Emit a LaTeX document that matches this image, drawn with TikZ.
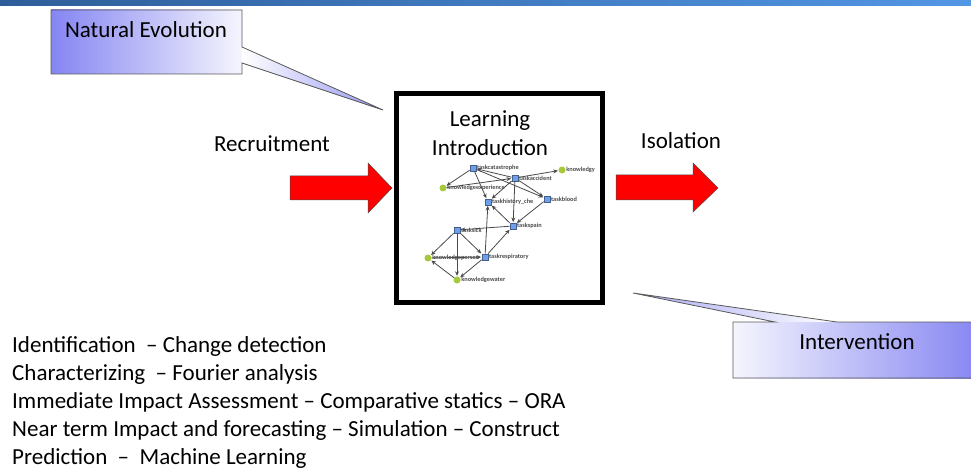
\documentclass[tikz,border=0pt]{standalone}
\usepackage{fontspec}
\setmainfont{Carlito}
\usetikzlibrary{arrows.meta}

\definecolor{barL}{HTML}{2E5E9A}
\definecolor{barR}{HTML}{5296E4}
\definecolor{calloutblue}{HTML}{8585F2}
\definecolor{netblue}{HTML}{6F9FEA}
\definecolor{netgreen}{HTML}{A5C93A}
\definecolor{edgegray}{HTML}{4A4A4A}

\tikzset{
  label text/.style={font=\fontsize{23}{28}\selectfont, inner sep=0pt},
  list text/.style={font=\fontsize{23}{28}\selectfont, inner sep=0pt, anchor=base west},
  callout border/.style={draw=black!65, line width=0.8pt, line join=miter},
  block arrow/.style={fill=red, draw=black!70, line width=0.5pt},
  tasknode/.style={fill=netblue, draw=netblue!60!black, line width=0.3pt,
    minimum size=6.5pt, inner sep=0pt},
  knownode/.style={circle, fill=netgreen, minimum size=7pt, inner sep=0pt},
  netlabel/.style={font=\fontsize{6.3}{6.3}\selectfont\bfseries, text=black!70,
    inner sep=0.5pt, anchor=west},
  netedge/.style={draw=edgegray, line width=0.8pt,
    -{Stealth[length=4.5pt,width=4pt]}, shorten >=0.5pt},
}

\begin{document}
\begin{tikzpicture}[x=1pt,y=-1pt]
\useasboundingbox (0,0) rectangle (971,470);
\fill[white] (0,0) rectangle (971,470);

% title bar strip
\shade[left color=barL, right color=barR] (0,0) rectangle (971,6);

% "Natural Evolution" callout
\shade[left color=calloutblue, middle color=calloutblue!60!white,
  right color=white!92!calloutblue] (51,10) rectangle (242,74);
\shade[left color=white, right color=calloutblue!85]
  (242,47) -- (383,110) -- (242,63) -- cycle;
\draw[callout border] (242,47) -- (242,10) -- (51,10) -- (51,74) -- (242,74)
  -- (242,63) -- (383,110) -- cycle;
\node[label text] (natevo) at (146,30) {Natural Evolution};

% central box
\node[draw, line width=5pt, minimum width=206pt, minimum height=209pt,
  inner sep=0pt, anchor=north west] (learnbox) at (394,91) {};
\node[label text] (learn1) at (490,121) {Learning};
\node[label text] (learn2) at (490,148) {Introduction};

% side labels and block arrows
\node[label text] (recruit) at (272,144) {Recruitment};
\node[label text] (isolate) at (681,141) {Isolation};
\draw[block arrow] (290,176) -- (368,176) -- (368,163) -- (392,188)
  -- (368,213) -- (368,200) -- (290,200) -- cycle;
\draw[block arrow] (616,175) -- (693,175) -- (693,163) -- (718,188)
  -- (693,212) -- (693,200) -- (616,200) -- cycle;

% "Intervention" callout
\shade[left color=white!92!calloutblue, middle color=calloutblue!55!white,
  right color=calloutblue] (733,322) rectangle (980,378);
\shade[left color=calloutblue!70, right color=white]
  (775,322) -- (633,293) -- (837,322) -- cycle;
\draw[callout border] (980,322) -- (837,322) -- (633,293) -- (775,322)
  -- (733,322) -- (733,378) -- (980,378);
\node[label text] (interv) at (857,342) {Intervention};

% small network inside the box
\node[tasknode] (n1) at (473,168) {};
\node[knownode] (n2) at (562,170) {};
\node[tasknode] (n3) at (515,178) {};
\node[knownode] (n4) at (443,188) {};
\node[tasknode] (n5) at (488,202) {};
\node[tasknode] (n6) at (547,199) {};
\node[tasknode] (n7) at (513,226) {};
\node[tasknode] (n8) at (457,230) {};
\node[knownode] (n9) at (428,258) {};
\node[tasknode] (n10) at (485,257) {};
\node[knownode] (n11) at (457,280) {};

\node[netlabel] (l1) at (n1.east) {taskcatastrophe};
\node[netlabel] (l2) at (n2.east) {knowledgy};
\node[netlabel] (l3) at (n3.east) {taskaccident};
\node[netlabel] (l4) at (n4.east) {knowledgeexperience};
\node[netlabel] (l5) at (n5.east) {taskhistory\_che};
\node[netlabel] (l6) at (n6.east) {taskblood};
\node[netlabel] (l7) at (n7.east) {taskspain};
\node[netlabel] (l8) at (n8.east) {tasksick};
\node[netlabel] (l9) at (n9.east) {knowledgeperson};
\node[netlabel] (l10) at (n10.east) {taskrespiratory};
\node[netlabel] (l11) at (n11.east) {knowledgewater};

\draw[netedge] (n3) -- (n1);
\draw[netedge] (n1) -- (n4);
\draw[netedge] (n1) -- (n5);
\draw[netedge] (n1) -- (n6);
\draw[netedge] (n4) -- (n3);
\draw[netedge] (n3) -- (n2);
\draw[netedge] (n3) -- (n5);
\draw[netedge] (n3) -- (n7);
\draw[netedge] (n3) -- (n6);
\draw[netedge] (n7) -- (n5);
\draw[netedge] (n6) -- (n7);
\draw[netedge] (n10) -- (n5);
\draw[netedge] (n7) -- (n8);
\draw[netedge] (n10) -- (n7);
\draw[netedge] (n8) -- (n9);
\draw[netedge] (n8) -- (n10);
\draw[netedge] (n8) -- (n11);
\draw[netedge] (n9) -- (n10);
\draw[netedge] (n11) -- (n9);
\draw[netedge] (n10) -- (n11);

% method list
\node[list text] (m1) at (12,352) {Identification \ -- Change detection};
\node[list text] (m2) at (12,380) {Characterizing \ -- Fourier analysis};
\node[list text] (m3) at (12,408) {Immediate Impact Assessment -- Comparative statics -- ORA};
\node[list text] (m4) at (12,436) {Near term Impact and forecasting -- Simulation -- Construct};
\node[list text] (m5) at (12,464) {Prediction \ -- \ Machine Learning};
\end{tikzpicture}
\end{document}
